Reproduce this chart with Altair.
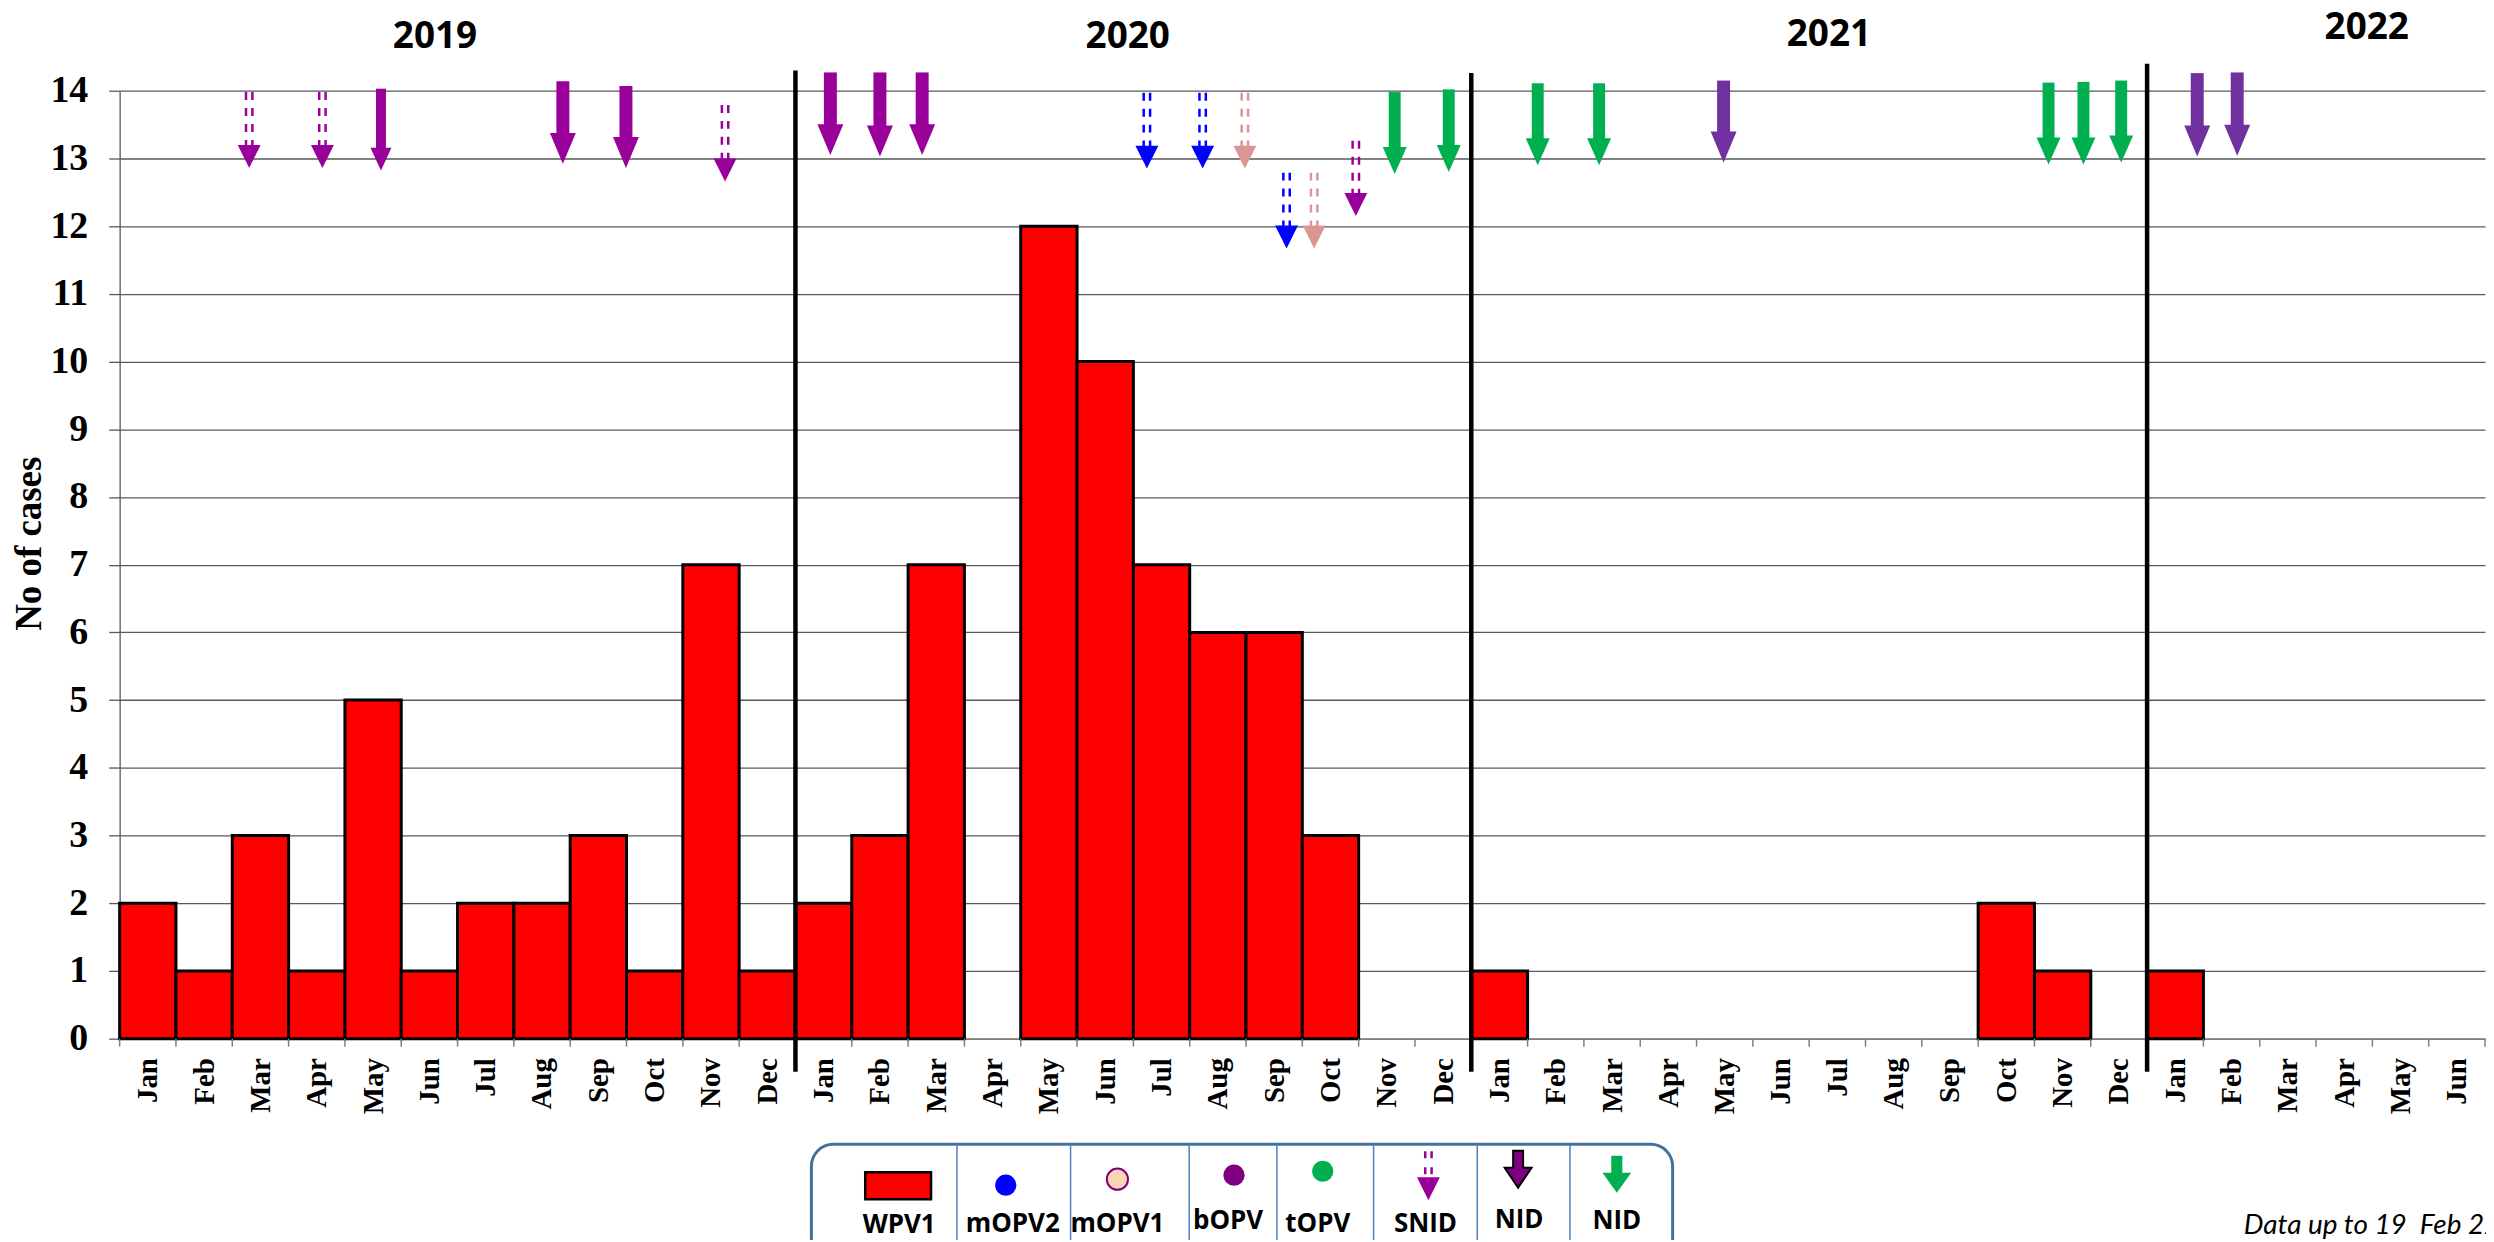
import altair as alt
import pandas as pd

# ---------------- data ----------------
MONTH_NAMES = ["Jan", "Feb", "Mar", "Apr", "May", "Jun",
               "Jul", "Aug", "Sep", "Oct", "Nov", "Dec"]
YEARS = ["2019", "2020", "2021", "2022"]
N_MONTHS = 42  # Jan 2019 .. Jun 2022

wpv1_cases = [2, 1, 3, 1, 5, 1, 2, 2, 3, 1, 7, 1,
              2, 3, 7, 0, 12, 10, 7, 6, 6, 3, 0, 0,
              1, 0, 0, 0, 0, 0, 0, 0, 0, 2, 1, 0,
              1, 0, 0, 0, 0, 0]

year_label_month = [5.6, 17.9, 30.35, 39.9]
year_label_level = [14.8, 14.8, 14.82, 14.93]
separator_month = [12, 24, 36]
separator_top = [14.3, 14.26, 14.4]
separator_bottom = -0.49

arrow_month = [2.30, 3.60, 4.64, 7.87, 8.99, 10.75,
               12.62, 13.50, 14.25, 18.24, 19.23, 19.98, 20.72, 21.21, 21.95, 22.64, 23.60,
               25.18, 26.27, 28.48, 34.25, 34.87, 35.54,
               36.89, 37.60]
arrow_top = [13.98, 13.98, 14.03, 14.14, 14.07, 13.79,
             14.27, 14.27, 14.27, 13.97, 13.97, 13.97, 12.79, 12.79, 13.26, 13.98, 14.02,
             14.11, 14.11, 14.15, 14.12, 14.13, 14.15,
             14.26, 14.27]
arrow_tip = [12.86, 12.86, 12.82, 12.92, 12.86, 12.66,
             13.05, 13.03, 13.05, 12.85, 12.85, 12.85, 11.67, 11.67, 12.15, 12.77, 12.80,
             12.90, 12.90, 12.94, 12.91, 12.91, 12.94,
             13.03, 13.04]
arrow_vaccine = ["bOPV", "bOPV", "bOPV", "bOPV", "bOPV", "bOPV",
                 "bOPV", "bOPV", "bOPV", "mOPV2", "mOPV2", "mOPV1", "mOPV2", "mOPV1", "bOPV", "tOPV", "tOPV",
                 "tOPV", "tOPV", "bOPV (2021-22)", "tOPV", "tOPV", "tOPV",
                 "bOPV (2021-22)", "bOPV (2021-22)"]
arrow_kind = ["SNID", "SNID", "NID small", "NID", "NID", "SNID",
              "NID", "NID", "NID", "SNID", "SNID", "SNID", "SNID", "SNID", "SNID", "NID", "NID",
              "NID", "NID", "NID", "NID", "NID", "NID",
              "NID", "NID"]

legend_labels = ["WPV1", "mOPV2", "mOPV1", "bOPV", "tOPV", "SNID", "NID", "NID"]
footnote = "Data up to 19  Feb 22"
y_title = "No of cases"

# ---------------- styles / layout ----------------
VACCINE_KEYS = ["bOPV", "bOPV (2021-22)", "mOPV2", "mOPV1", "tOPV"]
VACCINE_COLORS = ["#990099", "#7030A0", "#0000FF", "#D99694", "#00B050"]

PLOT_W, PLOT_H = 2373, 951
PAD = {"left": 112, "top": 81, "right": 1, "bottom": 200}
SERIF = "Liberation Serif"
SANS = "Open Sans"

cases_df = pd.DataFrame({"m": list(range(N_MONTHS)), "cases": wpv1_cases})
bounds_df = pd.DataFrame({"b": list(range(N_MONTHS + 1))})
sep_df = pd.DataFrame({"m": separator_month, "top": separator_top})
year_df = pd.DataFrame({"m": year_label_month, "lvl": year_label_level, "year": YEARS})
arrows_df = pd.DataFrame({"month": arrow_month, "top": arrow_top, "tip": arrow_tip,
                          "vaccine": arrow_vaccine, "kind": arrow_kind})
one = alt.Chart(pd.DataFrame({"k": [0]}))

x_scale = alt.Scale(domain=[0, N_MONTHS], nice=False, zero=False)
y_scale = alt.Scale(domain=[0, 14], nice=False, zero=True)

label_array = "[" + ",".join("'%s'" % n for n in MONTH_NAMES) + "]"
x_axis = alt.Axis(values=[i + 0.5 for i in range(N_MONTHS)],
                  labelExpr=label_array + "[floor(datum.value) % 12]",
                  ticks=False, grid=False, domainColor="#808080", domainWidth=1.5,
                  labelAngle=270, labelAlign="right", labelBaseline="middle",
                  labelFont=SERIF, labelFontWeight="bold", labelFontSize=29,
                  labelColor="black", labelPadding=19, labelFlush=False,
                  labelOverlap=False, title=None)
y_axis = alt.Axis(values=list(range(15)), grid=True, gridColor="#595959", gridWidth=1.3,
                  domainColor="#595959", domainWidth=1.3, tickColor="#595959", tickSize=11,
                  tickWidth=1.3, labelFont=SERIF, labelFontWeight="bold", labelFontSize=38,
                  labelColor="black", labelPadding=21, labelFlush=False,
                  title=y_title, titleFont=SERIF, titleFontSize=37, titleFontWeight="bold",
                  titleColor="black", titlePadding=1, titleY=454)

color_enc = alt.Color("vaccine:N", scale=alt.Scale(domain=VACCINE_KEYS, range=VACCINE_COLORS),
                      legend=None)
X = lambda f: alt.X(f, scale=x_scale, axis=x_axis)
Y = lambda f: alt.Y(f, scale=y_scale, axis=y_axis)

bars = (alt.Chart(cases_df)
        .transform_filter("datum.cases > 0")
        .transform_calculate(m2="datum.m + 1")
        .mark_rect(fill="#FF0000", stroke="black", strokeWidth=3)
        .encode(x=X("m:Q"), x2="m2:Q", y=Y("cases:Q"), y2=alt.datum(0)))

month_ticks = (alt.Chart(bounds_df).mark_rule(color="#808080", strokeWidth=1.5)
               .encode(x=X("b:Q"), y=alt.value(PLOT_H), y2=alt.value(PLOT_H + 8)))

separators = (alt.Chart(sep_df).mark_rule(color="black", strokeWidth=4.5)
              .encode(x=X("m:Q"), y=Y("top:Q"), y2=alt.datum(separator_bottom)))

year_text = (alt.Chart(year_df)
             .mark_text(font=SANS, fontWeight="bold", fontSize=37, baseline="middle", color="black")
             .encode(x=X("m:Q"), y=Y("lvl:Q"), text="year:N"))


def head_path(head_w, head_l):
    a = head_w / head_l
    return "M%.3f,-2L%.3f,-2L0,0Z" % (-a, a)


def solid_arrows(filt, shaft_w, head_w, head_l):
    base = alt.Chart(arrows_df).transform_filter(filt)
    shaft = base.mark_rule(strokeWidth=shaft_w, strokeCap="butt", y2Offset=-(head_l - 3)).encode(
        x=X("month:Q"), y=Y("top:Q"), y2="tip:Q", color=color_enc)
    head = base.mark_point(shape=head_path(head_w, head_l), filled=True, size=head_l ** 2,
                           opacity=1, strokeWidth=0).encode(
        x=X("month:Q"), y=Y("tip:Q"), color=color_enc)
    return [shaft, head]


def dashed_arrows(filt, head_w, head_l):
    base = alt.Chart(arrows_df).transform_filter(filt)
    layers = []
    for off in (-3.2, 3.2):
        layers.append(base.mark_rule(strokeWidth=2.5, strokeDash=[8, 8], xOffset=off,
                                     y2Offset=-(head_l - 3)).encode(
            x=X("month:Q"), y=Y("top:Q"), y2="tip:Q", color=color_enc))
    layers.append(base.mark_point(shape=head_path(head_w, head_l), filled=True,
                                  size=head_l ** 2, opacity=1, strokeWidth=0).encode(
        x=X("month:Q"), y=Y("tip:Q"), color=color_enc))
    return layers


arrow_layers = []
arrow_layers += solid_arrows("datum.kind == 'NID' && datum.vaccine != 'tOPV'", 13, 26, 31)
arrow_layers += solid_arrows("datum.kind == 'NID' && datum.vaccine == 'tOPV'", 12, 24, 27)
arrow_layers += solid_arrows("datum.kind == 'NID small'", 10, 21, 23)
arrow_layers += dashed_arrows("datum.kind == 'SNID'", 23, 23)

# ---------------- legend box (pixel layout) ----------------
legend = []
legend.append(one.mark_rect(fill="white", stroke="#41719C", strokeWidth=3, cornerRadius=22)
              .encode(x=alt.value(694), x2=alt.value(1558), y=alt.value(1057), y2=alt.value(1262)))
for dx in [840, 954, 1073, 1161, 1258, 1362, 1455]:
    legend.append(one.mark_rule(color="#4F81BD", strokeWidth=1.5)
                  .encode(x=alt.value(dx), y=alt.value(1058), y2=alt.value(1262)))
legend.append(one.mark_rect(fill="#FF0000", stroke="black", strokeWidth=2.5)
              .encode(x=alt.value(748), x2=alt.value(814), y=alt.value(1085), y2=alt.value(1112)))
circle_specs = [(889, 1098, "#0000FF", None), (1001, 1092, "#FBD4B4", "#7F007F"),
                (1118, 1088, "#7F007F", None), (1207, 1084, "#00B050", None)]
for cx, cy, fill, stroke in circle_specs:
    kw = dict(shape="circle", filled=True, size=452, opacity=1, fill=fill)
    if stroke:
        kw.update(stroke=stroke, strokeWidth=2)
    else:
        kw.update(strokeWidth=0)
    legend.append(one.mark_point(**kw).encode(x=alt.value(cx), y=alt.value(cy)))
for off in (-3.2, 3.2):
    legend.append(one.mark_rule(color="#990099", strokeWidth=2.5, strokeDash=[7, 9])
                  .encode(x=alt.value(1313 + off), y=alt.value(1064), y2=alt.value(1092)))
legend.append(one.mark_point(shape=head_path(23, 23), filled=True, size=23 ** 2, opacity=1,
                             fill="#990099", strokeWidth=0)
              .encode(x=alt.value(1313), y=alt.value(1113)))
nid_path = "M-0.27,-1L0.27,-1L0.27,-0.08L0.73,-0.08L0,1L-0.73,-0.08L-0.27,-0.08Z"
green_path = "M-0.3,-1L0.3,-1L0.3,-0.08L0.78,-0.08L0,1L-0.78,-0.08L-0.3,-0.08Z"
legend.append(one.mark_point(shape=nid_path, filled=True, size=1369, opacity=1,
                             fill="#7F007F", stroke="black", strokeWidth=2)
              .encode(x=alt.value(1403), y=alt.value(1082)))
legend.append(one.mark_point(shape=green_path, filled=True, size=1369, opacity=1,
                             fill="#00B050", strokeWidth=0)
              .encode(x=alt.value(1502), y=alt.value(1087)))
label_x = [782, 896, 1001, 1112, 1202, 1310, 1404, 1502]
label_y = [1138, 1137, 1137, 1134, 1137, 1137, 1133, 1134]
for lab, lx, ly in zip(legend_labels, label_x, label_y):
    legend.append(one.mark_text(text=lab, font=SANS, fontWeight="bold", fontSize=26,
                                baseline="middle", align="center", color="black")
                  .encode(x=alt.value(lx), y=alt.value(ly)))
legend.append(one.mark_text(text=footnote.replace("  ", "\u00a0 "), font="Lato",
                            fontStyle="italic", fontSize=28,
                            baseline="middle", align="left", color="black")
              .encode(x=alt.value(2131), y=alt.value(1139)))

chart = (alt.layer(bars, month_ticks, separators, year_text, *arrow_layers, *legend)
         .properties(width=PLOT_W, height=PLOT_H,
                     autosize=alt.AutoSizeParams(type="none"), padding=PAD)
         .configure_view(stroke=None))

chart.save("out.html", embed_options={"renderer": "svg", "actions": False})
